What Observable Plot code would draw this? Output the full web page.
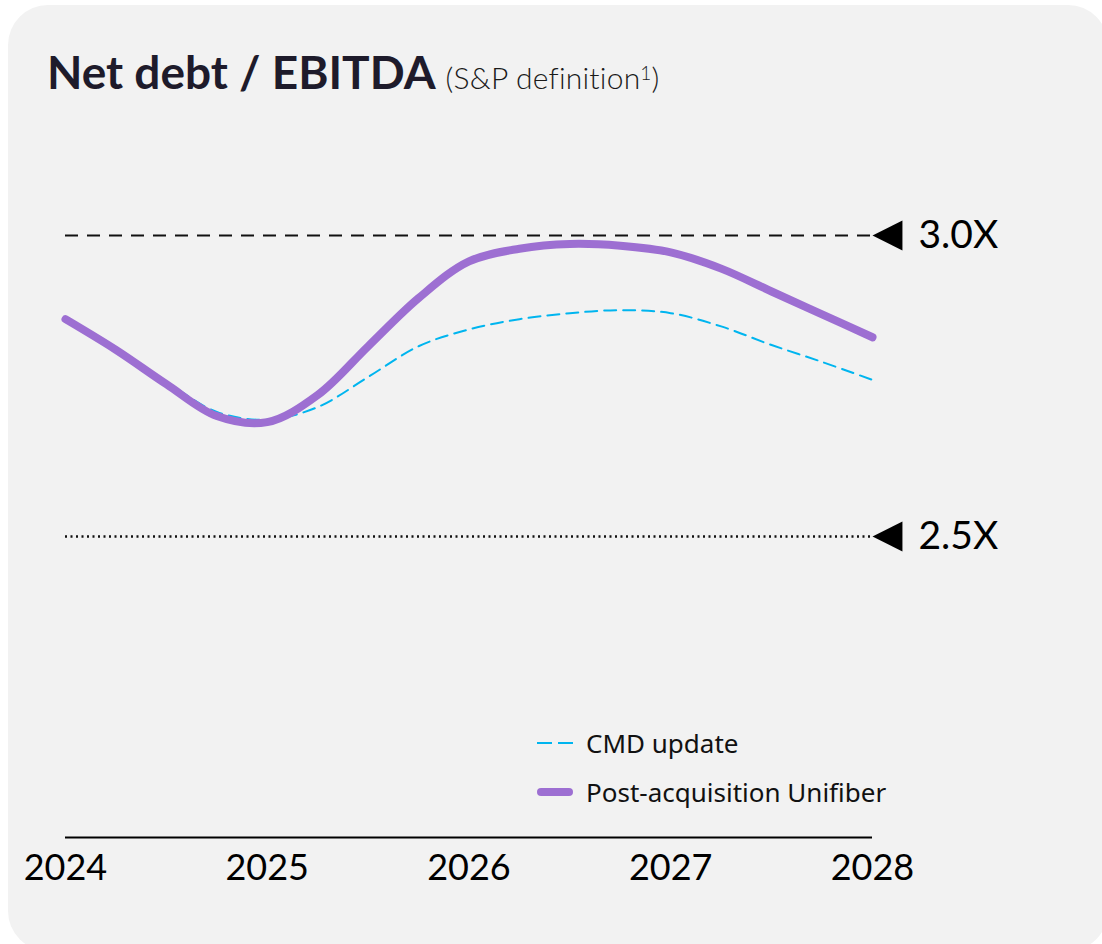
<!DOCTYPE html>
<html>
<head>
<meta charset="utf-8">
<script src="https://cdn.jsdelivr.net/npm/d3@7"></script>
<script src="https://cdn.jsdelivr.net/npm/@observablehq/plot@0.6"></script>
<style>
  html, body { margin: 0; padding: 0; background: #ffffff; width: 1102px; height: 944px; overflow: hidden; }
  body { position: relative; font-family: Lato, "Noto Sans", sans-serif; }
  #panel { position: absolute; left: 8px; top: 5px; width: 1100px; height: 946px; border-radius: 40px; background: #f2f2f2; }
  #title { position: absolute; left: 47px; top: 49px; white-space: nowrap; color: #1e1b2b; line-height: 1; }
  #title .main { font-size: 46px; font-weight: 700; }
  #title .sub { font-size: 30px; font-weight: 300; margin-left: 10px; letter-spacing: 0.2px; color: #1a1a1a; }
  #title sup { font-size: 19px; vertical-align: 9px; line-height: 0; }
  #chart { position: absolute; left: 0; top: 0; }
  .leg { position: absolute; left: 537px; display: flex; align-items: center; font-family: "Noto Sans", Lato, sans-serif; font-size: 26px; color: #111; white-space: nowrap; }
  .leg svg { margin-right: 13px; }
</style>
</head>
<body>
<div id="panel"></div>
<div id="title"><span class="main">Net debt / EBITDA</span><span class="sub">(S&amp;P definition<sup>1</sup>)</span></div>
<div id="chart"></div>
<div class="leg" style="top:725px"><svg width="36" height="30"><line x1="0" x2="36" y1="15" y2="15" stroke="#00b5ef" stroke-width="2" stroke-dasharray="15,6"/></svg>CMD update</div>
<div class="leg" style="top:774px"><svg width="36" height="30"><line x1="4" x2="32" y1="15" y2="15" stroke="#9d6fd2" stroke-width="8" stroke-linecap="round"/></svg>Post-acquisition Unifiber</div>
<script>
// Year positions (quarter-year steps) and values
const years = [2024, 2025, 2026, 2027, 2028];
const t = [2024, 2024.25, 2024.5, 2024.75, 2025, 2025.25, 2025.5, 2025.75, 2026, 2026.25, 2026.5, 2026.75, 2027, 2027.25, 2027.5, 2027.75, 2028];
const cmdUpdate = [2.861, 2.811, 2.757, 2.707, 2.694, 2.715, 2.765, 2.816, 2.844, 2.861, 2.871, 2.876, 2.871, 2.849, 2.818, 2.790, 2.760];
const postAcq   = [2.861, 2.810, 2.753, 2.700, 2.690, 2.735, 2.816, 2.896, 2.957, 2.978, 2.986, 2.983, 2.972, 2.945, 2.907, 2.869, 2.831];
const refValues = [3.0, 2.5];
const refLabels = ["3.0X", "2.5X"];

const cmdData = t.map((x, i) => ({x, y: cmdUpdate[i]}));
const postData = t.map((x, i) => ({x, y: postAcq[i]}));
const refs = refValues.map((v, i) => ({v, label: refLabels[i]}));

const leftTriangle = {
  draw(ctx, size) {
    const s = Math.sqrt(size);
    ctx.moveTo(0, 0);
    ctx.lineTo(s, -s / 2);
    ctx.lineTo(s, s / 2);
    ctx.closePath();
  }
};

const chart = Plot.plot({
  width: 1102,
  height: 944,
  marginLeft: 65,
  marginRight: 230,
  marginTop: 235,
  marginBottom: 107,
  x: {domain: [2024, 2028], range: [65, 872], axis: null},
  y: {domain: [2.0, 3.0], range: [837, 235], axis: null},
  style: {background: "transparent", fontFamily: "Lato, 'Noto Sans', sans-serif", overflow: "visible"},
  marks: [
    Plot.ruleY([2.0], {x1: 2024, x2: 2028, stroke: "#000", strokeWidth: 2}),
    Plot.text(years, {x: d => d, y: 2.0, dy: 31, text: d => String(d), fontSize: 36, fill: "#000", lineAnchor: "middle"}),
    Plot.ruleY([3.0], {x1: 2024, x2: 2028, stroke: "#111", strokeWidth: 2, strokeDasharray: "13,9"}),
    Plot.ruleY([2.5], {x1: 2024, x2: 2028, stroke: "#111", strokeWidth: 2.5, strokeDasharray: "2,3.5"}),
    Plot.dot(refs, {x: 2028, y: "v", symbol: leftTriangle, r: 16.9, fill: "#000", stroke: null}),
    Plot.text(refs, {x: 2028, y: "v", text: "label", dx: 46, textAnchor: "start", fontSize: 39, fill: "#000", lineAnchor: "middle"}),
    Plot.line(cmdData, {x: "x", y: "y", curve: "catmull-rom", stroke: "#00b5ef", strokeWidth: 2, strokeDasharray: "12,7"}),
    Plot.line(postData, {x: "x", y: "y", curve: "catmull-rom", stroke: "#9d6fd2", strokeWidth: 8, strokeLinecap: "round"})
  ]
});
document.getElementById("chart").appendChild(chart);
</script>
</body>
</html>
